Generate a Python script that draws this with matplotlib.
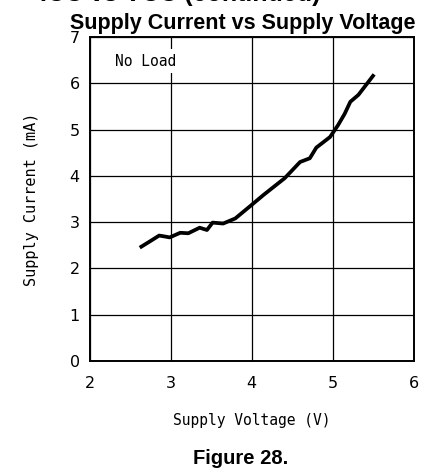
import matplotlib
matplotlib.use("Agg")
import matplotlib.pyplot as plt

# supply voltage (V) vs supply current (mA)
voltage = [2.64, 2.76, 2.86, 2.93, 2.99, 3.12, 3.22, 3.36, 3.45, 3.52, 3.65,
           3.80, 4.00, 4.15, 4.41, 4.60, 4.72, 4.80, 4.97, 5.07, 5.15, 5.22,
           5.32, 5.50]
current = [2.47, 2.60, 2.71, 2.69, 2.67, 2.77, 2.76, 2.88, 2.83, 2.99, 2.97,
           3.08, 3.37, 3.59, 3.95, 4.30, 4.38, 4.61, 4.84, 5.10, 5.34, 5.60,
           5.75, 6.16]

x_ticks = [2, 3, 4, 5, 6]
y_ticks = [0, 1, 2, 3, 4, 5, 6, 7]

title = "Supply Current vs Supply Voltage"
caption = "Figure 28."
header = "ICC vs VCC (continued)"
note = "No Load"

fig = plt.figure(figsize=(4.26, 4.76), dpi=100)
ax = fig.add_axes([89.5 / 426, 1 - 361 / 476, 324 / 426, 324 / 476])

ax.plot(voltage, current, color="black", lw=2.7, solid_joinstyle="round", zorder=3)

ax.set_xlim(x_ticks[0], x_ticks[-1])
ax.set_ylim(y_ticks[0], y_ticks[-1])
ax.set_xticks(x_ticks)
ax.set_yticks(y_ticks)
ax.grid(True, color="black", lw=0.9)
for s in ax.spines.values():
    s.set_linewidth(1.4)

ax.tick_params(length=0, labelsize=11.5)
ax.tick_params(axis="x", pad=11)
ax.tick_params(axis="y", pad=7)

ax.set_xlabel("Supply Voltage (V)", family="DejaVu Sans Mono", fontsize=10.5, labelpad=16)
ax.set_ylabel("Supply Current (mA)", family="DejaVu Sans Mono", fontsize=11, labelpad=22)

ax.text(2.32, 6.48, note, family="DejaVu Sans Mono", fontsize=10.5, va="center",
        bbox=dict(facecolor="white", edgecolor="none", pad=3), zorder=2)

fig.text(243 / 426, 1 - 23 / 476, title, ha="center", va="center",
         family="Liberation Sans", weight="bold", fontsize=15.5)
fig.text(241 / 426, 1 - 458 / 476, caption, ha="center", va="center",
         family="Liberation Sans", weight="bold", fontsize=14.5)
# heading cut off at the top edge of the crop
fig.text(40 / 426, 1 - 1.5 / 476, header, ha="left", va="baseline",
         family="Liberation Sans", weight="bold", fontsize=18)

fig.savefig("out.png", dpi=100)
